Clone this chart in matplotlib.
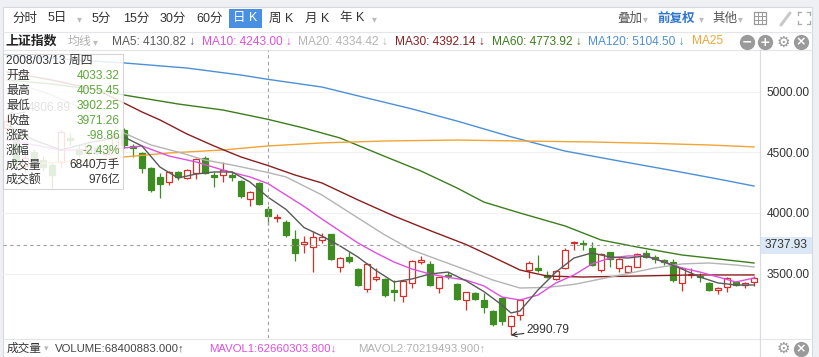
import matplotlib
matplotlib.use('Agg')
import matplotlib.pyplot as plt
from matplotlib.patches import Rectangle
from matplotlib.lines import Line2D
import numpy as np

plt.rcParams['font.family'] = ['Liberation Sans', 'Noto Sans CJK SC', 'DejaVu Sans']

W, H = 819, 357

# daily candles 2008/01/25 .. 2008/06/02
opens = [4700, 4600, 4390, 4500, 4440, 4396, 4420, 4620, 4530, 4500,
         4540, 4490, 4530, 4686, 4552, 4496, 4372, 4298, 4256, 4339,
         4289, 4331, 4455, 4314, 4314, 4314, 4264, 4116, 4248, 4033.32,
         3960, 3926, 3785, 3744, 3719, 3777, 3827, 3554, 3636, 3537,
         3372, 3455, 3455, 3364, 3314, 3422, 3595, 3579, 3380, 3488,
         3413, 3281, 3339, 3281, 3190, 3298, 3066, 3157, 3529, 3546,
         3488, 3455, 3546, 3752, 3752, 3711, 3529, 3678, 3546, 3512,
         3554, 3670, 3636, 3612, 3595, 3422, 3488, 3479, 3422, 3364,
         3389, 3430, 3405, 3430]
highs = [4806.89, 4660, 4500, 4530, 4470, 4410, 4690, 4660, 4560, 4580,
         4560, 4545, 4655, 4700, 4570, 4504, 4380, 4331, 4347, 4345,
         4364, 4455, 4471, 4339, 4422, 4347, 4270, 4180, 4255, 4055.45,
         3992, 3942, 3860, 3810, 3851, 3835, 3830, 3636, 3678, 3545,
         3590, 3546, 3460, 3446, 3446, 3612, 3645, 3603, 3475, 3512,
         3420, 3350, 3347, 3339, 3195, 3306, 3157, 3285, 3600, 3653,
         3521, 3530, 3711, 3770, 3777, 3760, 3670, 3680, 3625, 3570,
         3670, 3694, 3653, 3620, 3620, 3554, 3546, 3504, 3430, 3385,
         3471, 3438, 3428, 3479]
lows = [4660, 4380, 4330, 4400, 4350, 4207, 4380, 4560, 4460, 4480,
        4480, 4470, 4520, 4540, 4463, 4331, 4174, 4124, 4231, 4273,
        4285, 4281, 4325, 4215, 4256, 4264, 4124, 4058, 4066, 3902.25,
        3926, 3802, 3603, 3670, 3512, 3752, 3612, 3512, 3587, 3397,
        3347, 3438, 3306, 3273, 3265, 3380, 3579, 3397, 3339, 3455,
        3281, 3198, 3281, 3174, 3066, 3075, 2990.79, 3116, 3463, 3512,
        3463, 3450, 3540, 3694, 3694, 3562, 3512, 3554, 3512, 3504,
        3550, 3628, 3587, 3570, 3430, 3355, 3463, 3430, 3355, 3331,
        3347, 3397, 3380, 3397]
closes = [4761, 4419, 4457, 4438, 4383, 4314, 4672, 4600, 4490, 4552,
          4497, 4532, 4640, 4562, 4540, 4372, 4190, 4240, 4339, 4298,
          4355, 4446, 4331, 4298, 4355, 4298, 4141, 4174, 4074, 3971.26,
          3967, 3818, 3670, 3760, 3802, 3802, 3620, 3628, 3603, 3405,
          3579, 3471, 3322, 3347, 3438, 3603, 3612, 3405, 3471, 3478,
          3289, 3347, 3289, 3223, 3083, 3108, 3149, 3281, 3587, 3529,
          3471, 3521, 3694, 3760, 3744, 3570, 3661, 3620, 3620, 3562,
          3661, 3636, 3620, 3595, 3446, 3546, 3496, 3471, 3364, 3380,
          3463, 3405, 3422, 3463]

# moving averages, sampled at candle indices
ma5_i = [0, 3, 6, 9, 12, 13, 15, 17, 19, 21, 23, 25, 27, 29, 31, 33, 35, 37, 39, 41, 43,
         45, 47, 49, 51, 53, 55, 56, 57, 59, 61, 63, 65, 67, 69, 71, 73, 75, 77, 79, 81, 83]
ma5_v = [4727, 4603, 4521, 4579, 4620, 4628, 4554, 4380, 4289, 4322, 4339, 4339, 4256,
         4130.82, 4030, 3880, 3810, 3728, 3636, 3525, 3430, 3455, 3496, 3512, 3440, 3350,
         3240, 3174, 3190, 3364, 3512, 3628, 3670, 3636, 3628, 3645, 3595, 3537, 3471,
         3422, 3405, 3405]
ma10_i = [0, 6, 10, 13, 15, 18, 21, 24, 27, 29, 31, 33, 35, 37, 39, 41, 43, 45, 47, 49,
          51, 53, 55, 57, 59, 61, 63, 65, 67, 69, 71, 73, 75, 77, 79, 81, 83]
ma10_v = [4603, 4521, 4521, 4537, 4554, 4471, 4422, 4355, 4298, 4243.00, 4149, 4055,
          3950, 3851, 3752, 3670, 3595, 3537, 3496, 3468, 3446, 3397, 3306, 3281, 3322,
          3422, 3488, 3579, 3628, 3645, 3645, 3595, 3546, 3512, 3471, 3430, 3463]
ma20_i = [0, 5, 10, 13, 16, 19, 22, 25, 29, 31, 35, 39, 42, 45, 48, 51, 54, 57, 60, 63,
          66, 69, 72, 75, 78, 81, 83]
ma20_v = [5099, 4975, 4810, 4661, 4562, 4504, 4438, 4397, 4334.42, 4298, 4149, 3959,
          3818, 3694, 3612, 3530, 3446, 3380, 3385, 3410, 3455, 3500, 3546, 3579, 3587,
          3570, 3554]
ma30_i = [0, 5, 10, 13, 15, 17, 20, 23, 26, 29, 32, 35, 39, 43, 47, 51, 54, 57, 60, 64,
          70, 76, 83]
ma30_v = [5165, 5099, 5017, 4909, 4835, 4769, 4653, 4554, 4463, 4392.14, 4314, 4248,
          4108, 3975, 3855, 3740, 3636, 3529, 3479, 3471, 3479, 3488, 3488]
ma60_i = [0, 5, 10, 13, 19, 24, 29, 33, 37, 42, 46, 50, 53, 57, 62, 66, 70, 75, 80, 83]
ma60_v = [5099, 5066, 5017, 4975, 4901, 4851, 4773.92, 4702, 4620, 4467, 4347, 4207,
          4090, 4000, 3893, 3777, 3719, 3653, 3612, 3587]
ma120_i = [0, 6, 13, 20, 26, 29, 35, 40, 45, 50, 56, 62, 68, 74, 79, 83]
ma120_v = [5297, 5273, 5240, 5198, 5140, 5104.50, 5041, 4950, 4860, 4760, 4630, 4512,
           4430, 4350, 4281, 4223]
ma25_i = [0, 6, 13, 18, 24, 29, 35, 42, 50, 57, 65, 72, 78, 83]
ma25_v = [4388, 4421, 4463, 4496, 4521, 4554, 4579, 4595, 4603, 4595, 4587, 4575, 4562, 4546]

price_ticks = [3500, 4000, 4500, 5000]
cursor_idx = 29
cursor_price = 3737.93
max_idx, max_price = 0, 4806.89
min_idx, min_price = 56, 2990.79

periods = ['分时', '5日', '5分', '15分', '30分', '60分', '日 K', '周 K', '月 K', '年 K']
ma_labels = ['MA5: 4130.82 ↓', 'MA10: 4243.00 ↓', 'MA20: 4334.42 ↓', 'MA30: 4392.14 ↓',
             'MA60: 4773.92 ↓', 'MA120: 5104.50 ↓', 'MA25']
tip_date = '2008/03/13 周四'
tip_names = ['开盘', '最高', '最低', '收盘', '涨跌', '涨幅', '成交量', '成交额']
tip_values = ['4033.32', '4055.45', '3902.25', '3971.26', '-98.86', '-2.43%', '6840万手', '976亿']
vol_labels = ['VOLUME:68400883.000↑', 'MAVOL1:62660303.800↓', 'MAVOL2:70219493.900↑']

RED = '#d3302c'
GREEN = '#3f8c22'
C_MA5, C_MA10, C_MA20, C_MA30 = '#5a5a5a', '#df4fe0', '#b4b4b4', '#8a1f1f'
C_MA60, C_MA120, C_MA25 = '#3c7d1c', '#4d8fd6', '#f0a534'


def fx(x):
    return x / W


def fy(y):
    return 1 - y / H


fig = plt.figure(figsize=(W / 100, H / 100), dpi=100, facecolor='#eef0f3')

# container + separators
fig.add_artist(Rectangle((fx(3), fy(357)), 809 / W, 350 / H, transform=fig.transFigure,
                         fc='white', ec='#d6dae0', lw=0.8, zorder=-5))
for y in (32, 50, 339):
    fig.add_artist(Line2D([fx(3), fx(812)], [fy(y), fy(y)], color='#e3e5e8', lw=0.8,
                          transform=fig.transFigure, zorder=-4))
fig.add_artist(Line2D([fx(760), fx(760)], [fy(50), fy(357)], color='#d9dce0', lw=0.9,
                      transform=fig.transFigure, zorder=2))

# price axes
ax = fig.add_axes([fx(3), fy(338), 757 / W, 288 / H])
ax.set_facecolor('none')
ax.set_xlim(-0.44, 83.67)
ax.set_ylim(2967, 5347)
for s in ax.spines.values():
    s.set_visible(False)
ax.yaxis.tick_right()
ax.set_yticks(price_ticks)
ax.set_yticklabels([f'{t:.2f}' for t in price_ticks])
ax.tick_params(axis='y', length=0, pad=5, labelsize=8.6, labelcolor='#333333')
ax.set_xticks([])
ax.grid(axis='y', color='#f1f1f1', lw=0.8)
ax.set_axisbelow(True)

x = np.arange(len(opens))
o, h, l, c = (np.array(a, dtype=float) for a in (opens, highs, lows, closes))
up = c >= o
ax.vlines(x[up], l[up], h[up], color=RED, lw=0.9, zorder=3)
ax.vlines(x[~up], l[~up], h[~up], color=GREEN, lw=0.9, zorder=3)
lo = np.minimum(o, c)
bh = np.maximum(np.abs(c - o), 6)
ax.bar(x[up], bh[up], bottom=lo[up], width=0.66, facecolor='white', edgecolor=RED,
       lw=0.9, zorder=4)
ax.bar(x[~up], bh[~up], bottom=lo[~up], width=0.66, facecolor=GREEN, edgecolor=GREEN,
       lw=0.9, zorder=4)

for xi, yv, col in [(ma120_i, ma120_v, C_MA120), (ma60_i, ma60_v, C_MA60),
                    (ma25_i, ma25_v, C_MA25), (ma30_i, ma30_v, C_MA30),
                    (ma20_i, ma20_v, C_MA20), (ma10_i, ma10_v, C_MA10),
                    (ma5_i, ma5_v, C_MA5)]:
    ax.plot(xi, yv, color=col, lw=1.0, zorder=5)

ax.axvline(cursor_idx, color='#a0a0a0', lw=0.8, ls=(0, (3, 3)), zorder=6)
ax.axhline(cursor_price, color='#a0a0a0', lw=0.8, ls=(0, (3, 3)), zorder=6)

ax.annotate(f'{min_price:.2f}', xy=(min_idx, min_price), xytext=(min_idx + 1.75, 3030),
            ha='left', va='center', fontsize=8.6, color='#333333', zorder=7,
            arrowprops=dict(arrowstyle='->', color='#333333', lw=0.8, shrinkA=0, shrinkB=0))
ax.annotate(f'{max_price:.2f}', xy=(max_idx, max_price), xytext=(max_idx + 2.3, 4868),
            ha='left', va='center', fontsize=8.6, color='#333333', zorder=7,
            arrowprops=dict(arrowstyle='->', color='#333333', lw=0.8, shrinkA=0, shrinkB=0))

# cursor price label on the axis
fig.add_artist(Rectangle((fx(761), fy(254)), 51 / W, 17 / H, transform=fig.transFigure,
                         fc='#dce8f6', ec='none', zorder=3))
fig.text(fx(765), fy(245.5), f'{cursor_price:.2f}', fontsize=8.6, color='#333333',
         va='center', ha='left')

# toolbar
fs_bar = 9
tb_x = [12, 48, 92, 123, 160, 196, 245.5, 269, 305, 340]
for name, px in zip(periods, tb_x):
    if name == '日 K':
        fig.add_artist(Rectangle((fx(229), fy(28)), 33 / W, 19 / H, transform=fig.transFigure,
                                 fc='#4a90e2', ec='none', zorder=3))
        fig.text(fx(px), fy(18.5), name, fontsize=fs_bar, color='white', ha='center',
                 va='center', zorder=4)
    else:
        fig.text(fx(px), fy(18.5), name, fontsize=fs_bar, color='#333333', va='center')
for px in (77, 372, 643, 699, 738):
    fig.text(fx(px), fy(19), '▾', fontsize=7, color='#bbbbbb', va='center')
fig.text(fx(617), fy(18.5), '叠加', fontsize=fs_bar, color='#555555', va='center')
fig.text(fx(657), fy(18.5), '前复权', fontsize=fs_bar, color='#2f74d0', va='center',
         fontweight='bold')
fig.text(fx(712), fy(18.5), '其他', fontsize=fs_bar, color='#555555', va='center')
# grid / pen / fullscreen icons
fig.add_artist(Rectangle((fx(754), fy(24)), 12 / W, 12 / H, transform=fig.transFigure,
                         fc='white', ec='#999999', lw=0.9))
for d in (4, 8):
    fig.add_artist(Line2D([fx(754), fx(766)], [fy(12 + d), fy(12 + d)], color='#999999',
                          lw=0.7, transform=fig.transFigure))
    fig.add_artist(Line2D([fx(754 + d), fx(754 + d)], [fy(12), fy(24)], color='#999999',
                          lw=0.7, transform=fig.transFigure))
fig.add_artist(Line2D([fx(781), fx(790)], [fy(25), fy(13)], color='#c8c8c8', lw=2.2,
                      transform=fig.transFigure, solid_capstyle='round'))
for (x0, y0, dx, dy) in [(798, 12, 1, 1), (810, 12, -1, 1), (798, 24, 1, -1), (810, 24, -1, -1)]:
    fig.add_artist(Line2D([fx(x0), fx(x0 + 3 * dx)], [fy(y0), fy(y0)], color='#aaaaaa',
                          lw=0.9, transform=fig.transFigure))
    fig.add_artist(Line2D([fx(x0), fx(x0)], [fy(y0), fy(y0 + 3 * dy)], color='#aaaaaa',
                          lw=0.9, transform=fig.transFigure))

# MA legend row
fig.text(fx(5), fy(41.5), '上证指数', fontsize=9.3, color='#222222', va='center',
         fontweight='bold')
fig.text(fx(68), fy(41.5), '均线', fontsize=8.6, color='#b0b0b0', va='center')
fig.text(fx(93), fy(42), '▾', fontsize=7, color='#bbbbbb', va='center')
ma_x = [112, 202, 298, 395, 492, 588, 692]
ma_cols = [C_MA5, C_MA10, C_MA20, '#8a1f1f', C_MA60, C_MA120, C_MA25]
for lab, px, col in zip(ma_labels, ma_x, ma_cols):
    fig.text(fx(px), fy(41.5), lab, fontsize=8.6, color=col, va='center')
for px, sym in zip((747, 765, 783, 801), ('−', '+', '⚙', '×')):
    if sym == '⚙':
        fig.text(fx(px), fy(42), sym, fontsize=11, color='#9a9a9a', ha='center',
                 va='center', family='DejaVu Sans')
    else:
        fig.add_artist(Line2D([fx(px)], [fy(42)], marker='o', ms=11, mfc='#9a9a9a',
                              mec='none', transform=fig.transFigure))
        fig.text(fx(px), fy(42), sym, fontsize=9, color='white', ha='center', va='center',
                 fontweight='bold', family='DejaVu Sans')

# tooltip
fig.add_artist(Rectangle((fx(3), fy(189)), 120 / W, 135 / H, transform=fig.transFigure,
                         fc='white', ec='#cfcfcf', lw=0.8, alpha=0.86, zorder=8))
fig.text(fx(6), fy(60.5), tip_date, fontsize=8.6, color='#333333', va='center', zorder=9)
row_y = [75.7, 90.7, 106, 121, 135.7, 151, 165.7, 180.5]
for name, val, ry in zip(tip_names, tip_values, row_y):
    col = '#333333' if name in ('成交量', '成交额') else '#5da83b'
    fig.text(fx(6), fy(ry), name, fontsize=8.6, color='#333333', va='center', zorder=9)
    fig.text(fx(120), fy(ry), val, fontsize=8.6, color=col, va='center', ha='right', zorder=9)

# volume row
fig.text(fx(7), fy(348.5), '成交量', fontsize=8.4, color='#333333', va='center')
fig.text(fx(44), fy(349), '▾', fontsize=6.5, color='#bbbbbb', va='center')
for lab, px, col in zip(vol_labels, (55, 209, 358), ('#444444', '#df4fe0', '#b0b0b0')):
    fig.text(fx(px), fy(348.5), lab, fontsize=8.2, color=col, va='center')
fig.text(fx(783), fy(348.5), '⚙', fontsize=11, color='#9a9a9a', ha='center', va='center',
         family='DejaVu Sans')
fig.add_artist(Line2D([fx(801)], [fy(348.5)], marker='o', ms=11, mfc='#9a9a9a',
                      mec='none', transform=fig.transFigure))
fig.text(fx(801), fy(348.5), '×', fontsize=9, color='white', ha='center', va='center',
         fontweight='bold', family='DejaVu Sans')

fig.savefig('out.png', dpi=100, facecolor=fig.get_facecolor())
